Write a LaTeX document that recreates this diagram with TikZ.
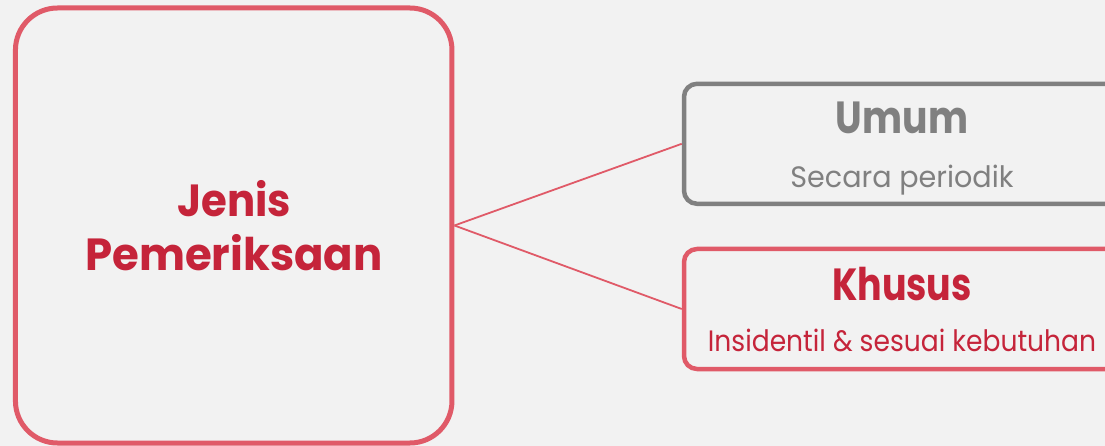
\documentclass[tikz,border=0pt]{standalone}
\usepackage{fontspec}
\usepackage{graphicx}
\setmainfont{Poppins}
\definecolor{bg}{HTML}{F2F2F2}
\definecolor{redline}{HTML}{E05A68}
\definecolor{redtext}{HTML}{C5243A}
\definecolor{graybox}{HTML}{808080}
\newcommand{\hsq}[2]{\scalebox{#1}[1]{#2}}
\tikzset{
  mainbox/.style={draw=redline, line width=5pt, rounded corners=42pt, minimum width=436.5pt, minimum height=435pt, inner sep=0pt},
  sidebox/.style={line width=4.5pt, rounded corners=13pt, minimum width=436pt, minimum height=120pt, inner sep=0pt},
  conn/.style={draw=redline, line width=1.8pt},
  titletext/.style={font=\fontsize{45}{53}\selectfont\bfseries, anchor=base, inner sep=0pt},
  subtext/.style={font=\fontsize{29.5}{34}\selectfont, anchor=base, inner sep=0pt}
}
\begin{document}
\begin{tikzpicture}[x=1pt,y=-1pt]
\fill[bg] (0,0) rectangle (1105,446);
\useasboundingbox (0,0) rectangle (1105,446);
\clip (0,0) rectangle (1105,446);
\node[mainbox] (main) at (233.7,225.5) {};
\node[sidebox, draw=graybox] (umum) at (902,143.8) {};
\node[sidebox, draw=redline] (khusus) at (902,309) {};
\draw[conn] (main.east) -- (umum.west);
\draw[conn] (main.east) -- (khusus.west);
\node[titletext, text=redtext] (jenis) at (234,216.7) {\hsq{0.93}{Jenis}};
\node[titletext, text=redtext] (pemeriksaan) at (234,270) {\hsq{0.965}{Pemeriksaan}};
\node[titletext, text=graybox] (umumT) at (902,133.3) {\hsq{0.84}{Umum}};
\node[subtext, text=graybox] (umumS) at (902,188) {\hsq{0.97}{Secara periodik}};
\node[titletext, text=redtext] (khususT) at (902,300.7) {\hsq{0.81}{Khusus}};
\node[subtext, text=redtext] (khususS) at (902,351.7) {\hsq{0.9}{Insidentil \& sesuai kebutuhan}};
\end{tikzpicture}
\end{document}
